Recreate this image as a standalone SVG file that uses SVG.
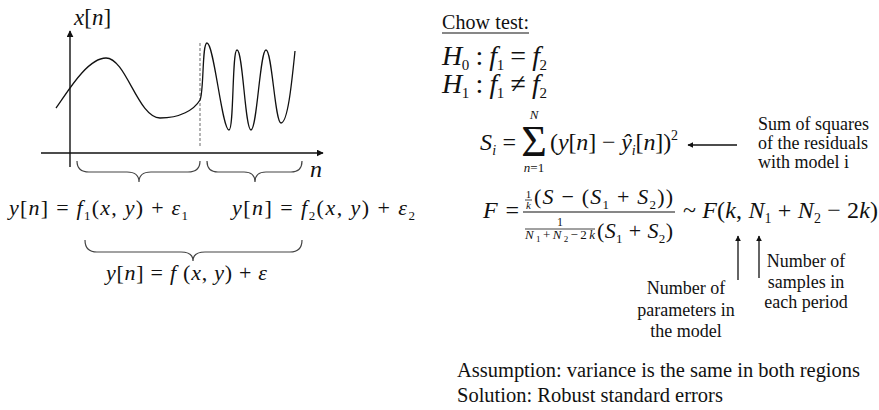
<svg xmlns="http://www.w3.org/2000/svg" width="879" height="410" viewBox="0 0 879 410">
<defs>
<marker id="ah" viewBox="0 0 10 10" refX="9" refY="5" markerWidth="7" markerHeight="7" markerUnits="userSpaceOnUse" orient="auto">
<path d="M0,0 L10,5 L0,10 Z" fill="#111"/>
</marker>
<marker id="ahs" viewBox="0 0 10 10" refX="9" refY="5" markerWidth="6" markerHeight="6" markerUnits="userSpaceOnUse" orient="auto">
<path d="M0,0 L10,5 L0,10 Z" fill="#111"/>
</marker>
</defs>
<style>
text{font-family:"Liberation Serif","Times New Roman",serif;fill:#111}
.i{font-style:italic}
.ax{stroke:#111;stroke-width:1.4;fill:none}
.br{stroke:#444;stroke-width:1.2;fill:none}
.cv{stroke:#111;stroke-width:1.3;fill:none}
.ar{stroke:#111;stroke-width:1.3;fill:none}
.lb{font-size:18px}
</style>
<rect width="879" height="410" fill="#fff"/>

<g id="plot">
<line class="ax" x1="70" y1="167" x2="70" y2="31" marker-end="url(#ah)"/>
<line class="ax" x1="41" y1="153" x2="323" y2="153" marker-end="url(#ah)"/>
<line x1="200" y1="43" x2="200" y2="146" stroke="#777" stroke-width="1.1" stroke-dasharray="3,2"/>
<path class="cv" d="M56,108 C64,98 86,58 106,58 C126,58 138,118 160,118 C180,118 194,110 200,100 C204,92 202,43 207,43 C214,43 222,130 229,130 C234,130 232,50 237,50 C243,50 245,130 251,130 C257,130 260,50 266,50 C272,50 275,123 281,123 C288,123 292,80 295,51"/>
<text x="74" y="25" font-size="23"><tspan class="i">x</tspan>[<tspan class="i">n</tspan>]</text>
<text x="310" y="177" font-size="24" class="i">n</text>
</g>

<g id="brace1">
<path class="br" d="M77,161 Q77,172 89,172 L127,172 Q139,172 139,182 Q139,172 151,172 L188,172 Q200,172 200,161"/>
</g>
<g id="brace2">
<path class="br" d="M207,161 Q207,172 218,172 L244,172 Q255,172 255,182 Q255,172 266,172 L291,172 Q302,172 302,161"/>
</g>
<g id="eq-model1">
<text x="9" y="215" font-size="22" textLength="179" lengthAdjust="spacing"><tspan class="i">y</tspan>[<tspan class="i">n</tspan>] = <tspan class="i">f</tspan><tspan font-size="13" dy="5">1</tspan><tspan dy="-5">(</tspan><tspan class="i">x</tspan>, <tspan class="i">y</tspan>) + <tspan class="i">ε</tspan><tspan font-size="13" dy="5">1</tspan></text>
</g>
<g id="eq-model2">
<text x="232" y="215" font-size="22" textLength="183" lengthAdjust="spacing"><tspan class="i">y</tspan>[<tspan class="i">n</tspan>] = <tspan class="i">f</tspan><tspan font-size="13" dy="5">2</tspan><tspan dy="-5">(</tspan><tspan class="i">x</tspan>, <tspan class="i">y</tspan>) + <tspan class="i">ε</tspan><tspan font-size="13" dy="5">2</tspan></text>
</g>
<g id="brace3">
<path class="br" d="M85,240 Q85,252 97,252 L181,252 Q193,252 193,261 Q193,252 205,252 L290,252 Q302,252 302,240"/>
</g>
<g id="eq-model">
<text x="106" y="280" font-size="22" textLength="161" lengthAdjust="spacing"><tspan class="i">y</tspan>[<tspan class="i">n</tspan>] = <tspan class="i">f</tspan> (<tspan class="i">x</tspan>, <tspan class="i">y</tspan>) + <tspan class="i">ε</tspan></text>
</g>

<g id="title">
<text x="442" y="29" font-size="20" textLength="87" lengthAdjust="spacing">Chow test:</text>
<line x1="442" y1="33" x2="529" y2="33" stroke="#111" stroke-width="1.2"/>
</g>
<g id="h0">
<text x="442" y="65" font-size="28" textLength="105" lengthAdjust="spacing"><tspan class="i">H</tspan><tspan font-size="15" dy="5">0</tspan><tspan dy="-5"> : </tspan><tspan class="i">f</tspan><tspan font-size="15" dy="5">1</tspan><tspan dy="-5"> = </tspan><tspan class="i">f</tspan><tspan font-size="15" dy="5">2</tspan></text>
</g>
<g id="h1">
<text x="442" y="93" font-size="28" textLength="105" lengthAdjust="spacing"><tspan class="i">H</tspan><tspan font-size="15" dy="5">1</tspan><tspan dy="-5"> : </tspan><tspan class="i">f</tspan><tspan font-size="15" dy="5">1</tspan><tspan dy="-5"> ≠ </tspan><tspan class="i">f</tspan><tspan font-size="15" dy="5">2</tspan></text>
</g>

<g id="eq-si">
<text x="480" y="150" font-size="24" textLength="36" lengthAdjust="spacing"><tspan class="i">S</tspan><tspan class="i" font-size="14" dy="5">i</tspan><tspan dy="-5"> =</tspan></text>
<text x="534" y="156" font-size="44" text-anchor="middle">Σ</text>
<text x="534" y="119" font-size="13" text-anchor="middle" class="i">N</text>
<text x="534" y="172" font-size="13" text-anchor="middle"><tspan class="i">n</tspan>=1</text>
<text x="550" y="150" font-size="24" textLength="128" lengthAdjust="spacing">(<tspan class="i">y</tspan>[<tspan class="i">n</tspan>] − <tspan class="i">ŷ</tspan><tspan class="i" font-size="14" dy="5">i</tspan><tspan dy="-5">[</tspan><tspan class="i">n</tspan>])<tspan font-size="14" dy="-10">2</tspan></text>
</g>
<g id="note-ss">
<text class="lb" x="758" y="130">Sum of squares</text>
<text class="lb" x="758" y="149">of the residuals</text>
<text class="lb" x="758" y="168">with model i</text>
</g>

<g id="eq-f">
<text x="483" y="218" font-size="24" textLength="36" lengthAdjust="spacing"><tspan class="i">F</tspan> =</text>
<line x1="523" y1="212" x2="675" y2="212" stroke="#111" stroke-width="1.1"/>
<text x="528.5" y="198" font-size="11" text-anchor="middle">1</text>
<line x1="525" y1="200" x2="532" y2="200" stroke="#111" stroke-width="0.8"/>
<text x="528.5" y="209" font-size="11" text-anchor="middle" class="i">k</text>
<text x="534" y="204" font-size="22" textLength="139" lengthAdjust="spacing">(<tspan class="i">S</tspan> − (<tspan class="i">S</tspan><tspan font-size="13" dy="5">1</tspan><tspan dy="-5"> + </tspan><tspan class="i">S</tspan><tspan font-size="13" dy="5">2</tspan><tspan dy="-5">))</tspan></text>
<text x="560" y="226" font-size="12" text-anchor="middle">1</text>
<line x1="525" y1="229" x2="595" y2="229" stroke="#111" stroke-width="0.8"/>
<text x="525" y="239" font-size="13" textLength="70" lengthAdjust="spacing"><tspan class="i">N</tspan><tspan font-size="9" dy="3">1</tspan><tspan dy="-3">+</tspan><tspan class="i">N</tspan><tspan font-size="9" dy="3">2</tspan><tspan dy="-3">−2</tspan><tspan class="i">k</tspan></text>
<text x="597" y="238" font-size="22" textLength="76" lengthAdjust="spacing">(<tspan class="i">S</tspan><tspan font-size="13" dy="5">1</tspan><tspan dy="-5"> + </tspan><tspan class="i">S</tspan><tspan font-size="13" dy="5">2</tspan><tspan dy="-5">)</tspan></text>
<text x="683" y="218" font-size="24" textLength="195" lengthAdjust="spacing">~ <tspan class="i">F</tspan>(<tspan class="i">k</tspan>, <tspan class="i">N</tspan><tspan font-size="14" dy="5">1</tspan><tspan dy="-5"> + </tspan><tspan class="i">N</tspan><tspan font-size="14" dy="5">2</tspan><tspan dy="-5"> − 2</tspan><tspan class="i">k</tspan>)</text>
</g>

<g id="note-k">
<text class="lb" x="686" y="294" text-anchor="middle">Number of</text>
<text class="lb" x="686" y="316" text-anchor="middle">parameters in</text>
<text class="lb" x="686" y="337" text-anchor="middle">the model</text>
</g>
<g id="note-n">
<text class="lb" x="806" y="267" text-anchor="middle">Number of</text>
<text class="lb" x="806" y="288" text-anchor="middle">samples in</text>
<text class="lb" x="806" y="308" text-anchor="middle">each period</text>
</g>

<g id="connectors">
<line class="ar" x1="737" y1="145" x2="688" y2="145" marker-end="url(#ahs)"/>
<line class="ar" x1="738" y1="280" x2="738" y2="236" marker-end="url(#ahs)"/>
<line class="ar" x1="759" y1="278" x2="759" y2="236" marker-end="url(#ahs)"/>
</g>

<g id="footer">
<text x="457" y="377" font-size="20.5" textLength="403" lengthAdjust="spacing">Assumption: variance is the same in both regions</text>
<text x="457" y="402" font-size="20.5">Solution: Robust standard errors</text>
</g>
</svg>
